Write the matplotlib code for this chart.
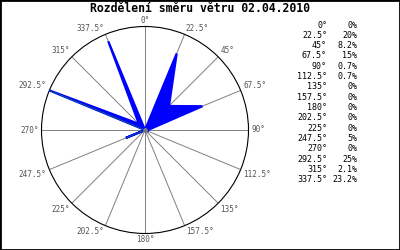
import numpy as np
import matplotlib
matplotlib.use('Agg')
import matplotlib.pyplot as plt
from matplotlib.patches import Rectangle

plt.rcParams['font.family'] = ['DejaVu Sans Mono']

# smery vetru a jejich cetnost v %
uhly = [0, 22.5, 45, 67.5, 90, 112.5, 135, 157.5, 180, 202.5, 225, 247.5, 270, 292.5, 315, 337.5]
procenta = [0, 20, 8.2, 15, 0.7, 0.7, 0, 0, 0, 0, 0, 5, 0, 25, 2.1, 23.2]
popisky = ['0°', '22.5°', '45°', '67.5°', '90°', '112.5°', '135°', '157.5°',
           '180°', '202.5°', '225°', '247.5°', '270°', '292.5°', '315°', '337.5°']
tabulka_pct = ['0%', '20%', '8.2%', '15%', '0.7%', '0.7%', '0%', '0%',
               '0%', '0%', '0%', '5%', '0%', '25%', '2.1%', '23.2%']
titulek = 'Rozdělení směru větru 02.04.2010'

W, H = 400, 250
fig = plt.figure(figsize=(4, 2.5), dpi=100)
fig.patch.set_facecolor('white')

# polarni graf - stred cca (145,130), polomer ~103 px
cx, cy, R = 145, 130, 103.5
ax = fig.add_axes([(cx - R) / W, (H - cy - R) / H, 2 * R / W, 2 * R / H], projection='polar')
ax.set_theta_zero_location('N')
ax.set_theta_direction(-1)
rmax = max(procenta)
ax.set_ylim(0, rmax)
ax.set_yticks([])
ax.set_thetagrids(uhly, [''] * len(uhly))
ax.xaxis.grid(True, color='#808080', linewidth=0.7)
ax.spines['polar'].set_color('black')
ax.spines['polar'].set_linewidth(0.8)

# popisky uhlu tesne za kruznici
for u, txt in zip(uhly, popisky):
    s, c = np.sin(np.deg2rad(u)), np.cos(np.deg2rad(u))
    ha = 'left' if s > 0.1 else ('right' if s < -0.1 else 'center')
    va = 'bottom' if c > 0.1 else ('top' if c < -0.1 else 'center')
    ax.annotate(txt, xy=(np.deg2rad(u), rmax), xytext=(3 * s, 2 * c),
                textcoords='offset pixels', ha=ha, va=va, fontsize=5.5,
                color='#555555', annotation_clip=False)

th = np.deg2rad(uhly + [uhly[0]])
r = procenta + [procenta[0]]
ax.fill(th, r, facecolor='#0000ff', edgecolor='#0000ff', linewidth=1.6, zorder=3)
ax.plot(th[11:14], r[11:14], color='#00cc00', linewidth=0.3, zorder=4)
ax.plot([0], [0], marker='o', markersize=2.5, color='#777777', zorder=5)

fig.text(0.5, 1 - 9 / H, titulek, ha='center', va='center', fontsize=8.3, fontweight='bold')

# tabulka vpravo
for i, (u, p) in enumerate(zip(popisky, tabulka_pct)):
    y = 1 - (25 + i * 10.33) / H
    fig.text(327 / W, y, u, ha='right', va='center', fontsize=6)
    fig.text(357 / W, y, p, ha='right', va='center', fontsize=6)

fig.patches.append(Rectangle((0, 0), 1, 1, transform=fig.transFigure, fill=False,
                             edgecolor='black', linewidth=2))

fig.savefig('out.png', dpi=100)
